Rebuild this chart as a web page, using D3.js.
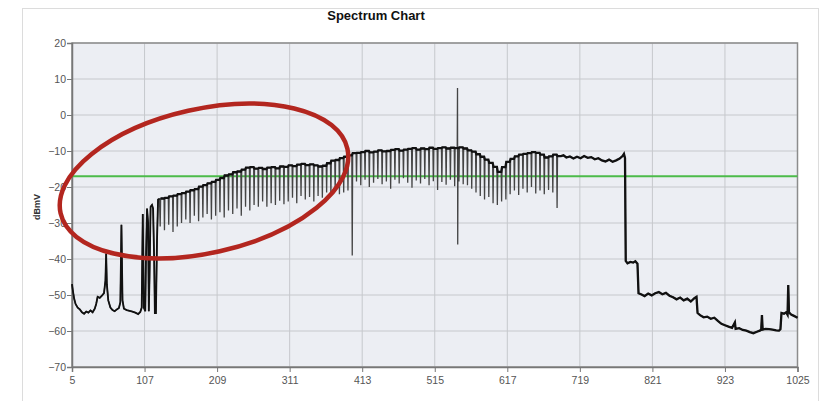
<!DOCTYPE html>
<html>
<head>
<meta charset="utf-8">
<script src="https://cdn.jsdelivr.net/npm/d3@7/dist/d3.min.js"></script>
<style>
  body { margin: 0; background: #fff; }
  text { font-family: "Liberation Sans", Arial, sans-serif; }
</style>
</head>
<body>
<div id="chart"></div>
<script>
// ---- data ----
const xTicks = [5, 107, 209, 311, 413, 515, 617, 719, 821, 923, 1025];
const yTicks = [-70, -60, -50, -40, -30, -20, -10, 0, 10, 20];
const threshold = -17;

// low band, 5..128 MHz  [MHz, dBmV]
const lowBand = [
  [5,-47],[6,-48.5],[8,-51],[10,-52.5],[13,-53.5],[16,-54],[19,-54.8],[22,-55.2],
  [25,-54.6],[28,-54.9],[31,-54.3],[34,-54.8],[37,-53.8],[39,-52.5],[41,-50.5],
  [44,-50.8],[47,-50.2],[50,-49.5],[52,-46],[53,-38.5],[54,-47],[56,-51.5],
  [59,-53.5],[62,-54.2],[65,-54.5],[68,-54],[71,-53.6],[73,-52],[74.5,-30.5],
  [76,-51.5],[78,-53.8],[82,-54.2],[86,-54.4],[90,-54.6],[94,-54.9],[98,-55.3],
  [101,-54.7],[103,-53.5],[104.5,-27.5],[106,-53.5],[108,-54.5],[109,-40],
  [110.5,-26],[112,-30],[113,-54.5],[114,-45],[115.5,-25.5],[117.5,-25],[119,-26],
  [120.5,-40],[121.5,-55],[123,-55],[124.5,-35],[126,-23.5],[128,-23.3]
];

// 6 MHz channels starting at 129 MHz: top level of each channel and dip at its lower edge
const chanStart = 129;
const chanWidth = 6;
const chanTop = [
  -23.2,-23.0,-22.6,-22.4,-22.0,-21.7,-21.3,-20.9,-20.6,-19.9,
  -19.5,-19.0,-18.6,-18.0,-17.5,-16.8,-16.5,-15.9,-15.7,-15.2,
  -14.6,-14.5,-14.9,-14.7,-15.0,-14.6,-14.5,-14.8,-14.3,-14.4,
  -14.0,-14.2,-13.8,-13.6,-13.9,-13.7,-14.0,-14.3,-14.1,-13.4,
  -12.7,-12.5,-12.0,-11.6,-11.2,-10.6,-10.5,-10.3,-10.0,-10.4,
  -10.2,-9.8,-10.1,-10.0,-9.7,-9.5,-9.9,-9.6,-9.4,-9.2,
  -9.6,-9.3,-9.5,-9.1,-9.4,-9.2,-9.0,-9.3,-9.1,-9.2,
  -9.0,-9.3,-9.8,-10.2,-10.9,-11.6,-12.4,-13.3,-14.4,-15.8,
  -14.5,-13.0,-12.2,-11.5,-11.0,-10.8,-10.6,-10.3,-10.5,-11.0,
  -11.8,-11.5,-11.0,-11.4
];
const chanDip = [
  -31,-32,-30.5,-32.5,-31,-30,-29,-30,-28,-29.5,
  -28.5,-27.5,-29,-28,-27,-28.5,-26.5,-27.5,-26,-28,
  -25.5,-26.5,-25,-25.5,-24,-25.5,-24.5,-25,-23.8,-24.8,
  -24,-23,-24.5,-22.5,-23.5,-22.8,-24,-22.5,-23,-21.5,
  -22.5,-21,-22,-21.5,-21,-39,-18.5,-19.5,-18,-20,
  -18.8,-17.8,-19.2,-18.5,-20.5,-18,-19,-17.6,-18.8,-20.2,
  -18.2,-19,-17.8,-19.5,-18.4,-20.8,-18.6,-19.4,-18,-19.8,
  -18.5,-19.2,-19.5,-20.5,-21.5,-22.5,-23.5,-22.8,-24.5,-25,
  -24,-23.5,-22,-21,-22.2,-20.5,-21.5,-20,-21.8,-21,
  -22,-20.8,-21.5,-25.8
];

// ingress spike inside the digital band
const spike = [[546.6,-9.2],[547,7.5],[547.3,-36],[547.5,-24],[547.7,-9.4]];

// upper band, 696..1025 MHz
const highBand = [
  [696,-11.2],[700,-11.8],[705,-11.5],[710,-12.1],[715,-11.6],[720,-12.0],[725,-11.4],
  [730,-11.9],[735,-11.7],[740,-12.3],[745,-12.0],[750,-12.6],[755,-12.9],[760,-12.4],
  [765,-13.0],[770,-12.6],[775,-12.1],[779,-11.4],[781,-10.8],[782.5,-12],[783.5,-40.5],
  [786,-41.2],[790,-40.8],[794,-41.0],[797,-40.6],[800,-41.3],[801.5,-49.5],[805,-49.8],
  [810,-50.3],[815,-49.6],[820,-50.1],[825,-49.5],[830,-49.2],[835,-49.8],[840,-49.4],
  [845,-50.2],[850,-50.6],[855,-51.2],[860,-50.7],[865,-51.5],[870,-51.0],[875,-51.8],
  [880,-50.9],[883,-50.5],[884.5,-55],[888,-55.6],[893,-56.2],[898,-56.0],[903,-56.6],
  [908,-56.3],[913,-57.2],[918,-58.0],[923,-58.4],[928,-58.8],[933,-59.1],[937,-57.6],
  [938,-59.4],[943,-59.2],[948,-59.7],[953,-59.9],[958,-60.3],[963,-60.6],[968,-60.2],
  [972,-59.9],[974,-59.6],[975,-55.6],[976,-59.6],[980,-59.4],[985,-59.5],[990,-59.6],
  [995,-59.8],[999,-59.9],[1001,-59.5],[1002.5,-55],[1006,-55.2],[1009,-54.8],
  [1011,-55.5],[1012,-47.2],[1013,-54.8],[1016,-55.4],[1020,-55.8],[1025,-56.3]
];

// ---- layout ----
const W = 825, H = 401;
const plot = { left: 72, right: 797.5, top: 43, bottom: 367 };

const svg = d3.select("#chart").append("svg")
  .attr("width", W)
  .attr("height", H);

// outer frame
svg.append("rect")
  .attr("x", 22.5).attr("y", 8.5)
  .attr("width", 796).attr("height", 400)
  .attr("fill", "#fff")
  .attr("stroke", "#dcdcdc");

svg.append("text")
  .attr("x", 376).attr("y", 20)
  .attr("text-anchor", "middle")
  .style("font-size", "13px")
  .style("font-weight", "bold")
  .attr("fill", "#111")
  .text("Spectrum Chart");

const x = d3.scaleLinear().domain([5, 1025]).range([plot.left, plot.right]);
const y = d3.scaleLinear().domain([-70, 20]).range([plot.bottom, plot.top]);

// plot background
svg.append("rect")
  .attr("x", plot.left).attr("y", plot.top)
  .attr("width", plot.right - plot.left)
  .attr("height", plot.bottom - plot.top)
  .attr("fill", "#eceef3");

// grid
svg.append("g").selectAll("line")
  .data(xTicks)
  .join("line")
  .attr("x1", d => x(d)).attr("x2", d => x(d))
  .attr("y1", plot.top).attr("y2", plot.bottom)
  .attr("stroke", "#c6c8cc").attr("stroke-width", 1);

svg.append("g").selectAll("line")
  .data(yTicks)
  .join("line")
  .attr("x1", plot.left).attr("x2", plot.right)
  .attr("y1", d => y(d)).attr("y2", d => y(d))
  .attr("stroke", "#c6c8cc").attr("stroke-width", 1);

// border of the plot
svg.append("rect")
  .attr("x", plot.left).attr("y", plot.top)
  .attr("width", plot.right - plot.left)
  .attr("height", plot.bottom - plot.top)
  .attr("fill", "none")
  .attr("stroke", "#8c8c8c")
  .attr("stroke-width", 1.5);

// axes
const yAxis = svg.append("g")
  .attr("transform", `translate(${plot.left},0)`)
  .call(d3.axisLeft(y).tickValues(yTicks).tickSize(5).tickPadding(1));
const xAxis = svg.append("g")
  .attr("transform", `translate(0,${plot.bottom})`)
  .call(d3.axisBottom(x).tickValues(xTicks).tickFormat(d3.format("d")).tickSize(5).tickPadding(5));

[yAxis, xAxis].forEach(a => {
  a.select(".domain").attr("stroke", "#777").attr("stroke-width", 1.5);
  a.selectAll(".tick line").attr("stroke", "#777");
  a.selectAll(".tick text")
    .attr("fill", "#555")
    .style("font-size", "10.5px")
    .style("font-family", "'Liberation Sans', Arial, sans-serif");
});

svg.append("text")
  .attr("transform", "translate(40,207) rotate(-90)")
  .attr("text-anchor", "middle")
  .style("font-size", "9px")
  .style("font-weight", "bold")
  .attr("fill", "#333")
  .text("dBmV");

// ---- spectrum trace ----
const trace = lowBand.slice();
const tops = [];
chanTop.forEach((t, i) => {
  const edge = chanStart + i * chanWidth;
  trace.push([edge, chanDip[i]]);
  trace.push([edge + 0.6, t]);
  trace.push([edge + chanWidth - 0.6, t]);
  tops.push([edge + 0.6, t], [edge + chanWidth - 0.6, t]);
});
spike.forEach(p => trace.push(p));
highBand.forEach(p => trace.push(p));
trace.sort((a, b) => a[0] - b[0]);

const line = d3.line()
  .x(d => x(d[0]))
  .y(d => y(d[1]));

// threshold line
svg.append("line")
  .attr("x1", plot.left).attr("x2", plot.right)
  .attr("y1", y(threshold)).attr("y2", y(threshold))
  .attr("stroke", "#4cbb4a")
  .attr("stroke-width", 2);

svg.append("path")
  .datum(trace)
  .attr("fill", "none")
  .attr("stroke", "#444")
  .attr("stroke-width", 1.3)
  .attr("d", line);

// heavier envelope where the trace is noisy
svg.append("path")
  .datum(lowBand)
  .attr("fill", "none")
  .attr("stroke", "#111")
  .attr("stroke-width", 1.8)
  .attr("d", line);

svg.append("path")
  .datum(tops.concat(highBand))
  .attr("fill", "none")
  .attr("stroke", "#111")
  .attr("stroke-width", 2.3)
  .attr("d", line);

// red annotation ellipse
svg.append("ellipse")
  .attr("cx", 0).attr("cy", 0)
  .attr("rx", 147).attr("ry", 72)
  .attr("transform", "translate(204,181) rotate(-12.7)")
  .attr("fill", "none")
  .attr("stroke", "#b3261f")
  .attr("stroke-width", 4.5);
</script>
</body>
</html>
